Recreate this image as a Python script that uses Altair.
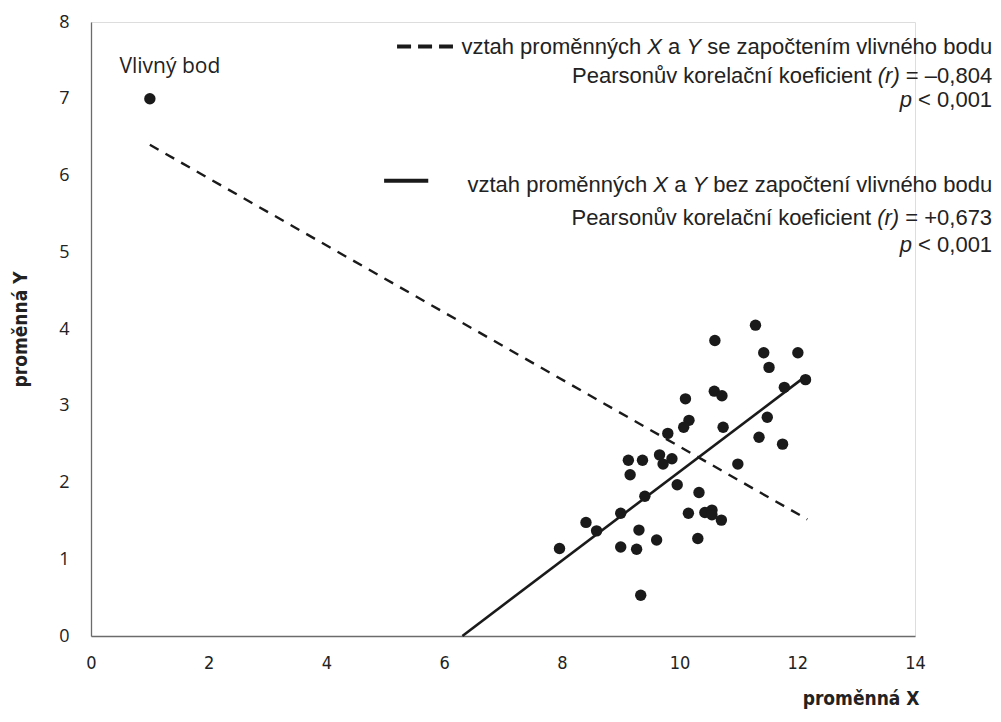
import altair as alt
import pandas as pd

# ---------------- data ----------------
x_vals = [11.29, 10.60, 11.43, 12.01, 11.52, 12.14, 11.78, 10.59, 10.72, 10.10,
          10.16, 10.07, 11.49, 10.74, 11.35, 11.75, 9.80, 9.13, 9.37, 9.66,
          9.72, 9.87, 9.16, 9.96, 9.41, 9.00, 8.41, 8.59, 9.31, 9.00,
          9.27, 9.61, 7.96, 9.34, 10.99, 10.33, 10.15, 10.43, 10.55, 10.55,
          10.71, 10.31]
y_vals = [4.05, 3.85, 3.69, 3.69, 3.50, 3.34, 3.24, 3.19, 3.13, 3.09,
          2.81, 2.72, 2.85, 2.72, 2.59, 2.50, 2.64, 2.29, 2.29, 2.36,
          2.24, 2.31, 2.10, 1.97, 1.82, 1.60, 1.48, 1.37, 1.38, 1.16,
          1.13, 1.25, 1.14, 0.53, 2.24, 1.87, 1.60, 1.61, 1.64, 1.58,
          1.51, 1.27]
influential_x = [1.0]
influential_y = [7.0]
influential_label = ["Vlivný bod"]
label_pos_x = [1.34]
label_pos_y = [7.41]

# trend lines (with / without the influential point)
dashed_x = [1.0, 12.17]
dashed_y = [6.40, 1.52]
solid_x = [6.31, 12.10]
solid_y = [0.0, 3.36]

x_ticks = [0, 2, 4, 6, 8, 10, 12, 14]
y_ticks = [0, 1, 2, 3, 4, 5, 6, 7, 8]

# legend texts (segment, italic)
legend_lines = [
    [("vztah proměnných ", False), ("X", True), (" a ", False), ("Y", True),
     (" se započtením vlivného bodu", False)],
    [("Pearsonův korelační koeficient ", False), ("(r)", True), (" = –0,804", False)],
    [("p", True), (" < 0,001", False)],
    [("vztah proměnných ", False), ("X", True), (" a ", False), ("Y", True),
     (" bez započtení vlivného bodu", False)],
    [("Pearsonův korelační koeficient ", False), ("(r)", True), (" = +0,673", False)],
    [("p", True), (" < 0,001", False)],
]
legend_line_y = [7.67, 7.30, 6.99, 5.88, 5.44, 5.10]
legend_right_x = 15.31

dash_sample_x = [5.20, 6.15]
dash_sample_y = [7.68, 7.68]
solid_sample_x = [4.98, 5.73]
solid_sample_y = [5.93, 5.93]

# ---------------- layout constants ----------------
PW, PH = 824, 614
PXU = PW / 14.0
FS = 22
FONT = "Liberation Sans"
INK = "#1a1a1a"
NARROW = "DejaVu Sans Condensed, Liberation Sans Narrow, Open Sans"

W = {' ': 278, 'a': 556, 'b': 556, 'c': 500, 'd': 556, 'e': 556, 'f': 278,
     'h': 556, 'i': 222, 'k': 500, 'l': 222, 'm': 833, 'n': 556, 'o': 556,
     'p': 556, 'r': 333, 's': 500, 't': 278, 'u': 556, 'v': 500, 'y': 500,
     'z': 500, 'ý': 500, 'ě': 556, 'č': 500, 'í': 278, 'é': 556, 'ů': 556,
     'X': 667, 'Y': 667, 'P': 667, '(': 333, ')': 333, '=': 584, '–': 556,
     '+': 584, '<': 584, ',': 278}


def tw(s):
    return sum(W.get(c, 556) for c in s) * FS / 1000.0 / PXU


rows = []
for line, ly in zip(legend_lines, legend_line_y):
    total = sum(tw(seg) for seg, _ in line)
    cur = legend_right_x - total
    for seg, it in line:
        lead = len(seg) - len(seg.lstrip())
        rows.append({"x": cur + tw(seg[:lead]), "y": ly, "t": seg.strip(),
                     "italic": it})
        cur += tw(seg)
txt = pd.DataFrame(rows)

xs = alt.Scale(domain=[0, 14], nice=False, zero=False)
ys = alt.Scale(domain=[0, 8], nice=False, zero=False)

pts = pd.DataFrame({"x": x_vals + influential_x, "y": y_vals + influential_y})
scatter = alt.Chart(pts).mark_circle(size=130, opacity=1, color=INK).encode(
    x=alt.X("x:Q", scale=xs, axis=alt.Axis(
        values=x_ticks, format="d", grid=False, ticks=False, domainColor="#6b6b6b",
        domainWidth=1.3, labelFont=NARROW, labelFlush=False, labelOverlap=False,
        labelFontSize=18, labelColor="#222", labelPadding=18,
        title="proměnná X", titleFont=NARROW,
        titleFontSize=19, titleFontWeight="bold", titleColor="#222",
        titleAnchor="end", titleAlign="right", titleX=828, titleY=72,
        titleBaseline="bottom")),
    y=alt.Y("y:Q", scale=ys, axis=alt.Axis(
        values=y_ticks, format="d", grid=False, ticks=False, domainColor="#6b6b6b",
        domainWidth=1.3, labelFont="Open Sans", labelFontSize=18,
        labelFlush=False, labelOverlap=False,
        labelColor="#222", labelPadding=22,
        title="proměnná Y", titleFont=NARROW,
        titleFontSize=19, titleFontWeight="bold", titleColor="#222",
        titleAngle=270, titleX=-71, titleY=PH / 2, titleAlign="center",
        titleBaseline="middle")),
)

lab = pd.DataFrame({"x": label_pos_x, "y": label_pos_y, "t": influential_label})
label = alt.Chart(lab).mark_text(font="Open Sans", fontSize=21, color="#222",
                                 align="center", baseline="middle").encode(
    x=alt.X("x:Q", scale=xs), y=alt.Y("y:Q", scale=ys), text="t:N")

dashed = alt.Chart(pd.DataFrame({"x": dashed_x, "y": dashed_y})).mark_line(
    color=INK, strokeWidth=2.4, strokeDash=[10, 8]).encode(
    x=alt.X("x:Q", scale=xs), y=alt.Y("y:Q", scale=ys))
solid = alt.Chart(pd.DataFrame({"x": solid_x, "y": solid_y})).mark_line(
    color=INK, strokeWidth=2.6).encode(
    x=alt.X("x:Q", scale=xs), y=alt.Y("y:Q", scale=ys))

dsample = alt.Chart(pd.DataFrame({"x": dash_sample_x, "y": dash_sample_y})).mark_line(
    color=INK, strokeWidth=4, strokeDash=[14, 7]).encode(
    x=alt.X("x:Q", scale=xs), y=alt.Y("y:Q", scale=ys))
ssample = alt.Chart(pd.DataFrame({"x": solid_sample_x, "y": solid_sample_y})).mark_line(
    color=INK, strokeWidth=4).encode(
    x=alt.X("x:Q", scale=xs), y=alt.Y("y:Q", scale=ys))

txt_n = alt.Chart(txt[~txt["italic"]]).mark_text(
    font=FONT, fontSize=FS, color="#222", align="left", baseline="middle").encode(
    x=alt.X("x:Q", scale=xs), y=alt.Y("y:Q", scale=ys), text="t:N")
txt_i = alt.Chart(txt[txt["italic"]]).mark_text(
    font=FONT, fontSize=FS, fontStyle="italic", color="#222", align="left",
    baseline="middle").encode(
    x=alt.X("x:Q", scale=xs), y=alt.Y("y:Q", scale=ys), text="t:N")

chart = alt.layer(dashed, solid, scatter, label, dsample, ssample, txt_n, txt_i).properties(
    width=PW, height=PH,
    autosize=alt.AutoSizeParams(type="none"),
    padding={"left": 83, "top": 14, "right": 78, "bottom": 76},
).configure_view(stroke=None).configure(background="white")

chart.save("out.html", embed_options={"renderer": "svg", "actions": False})
